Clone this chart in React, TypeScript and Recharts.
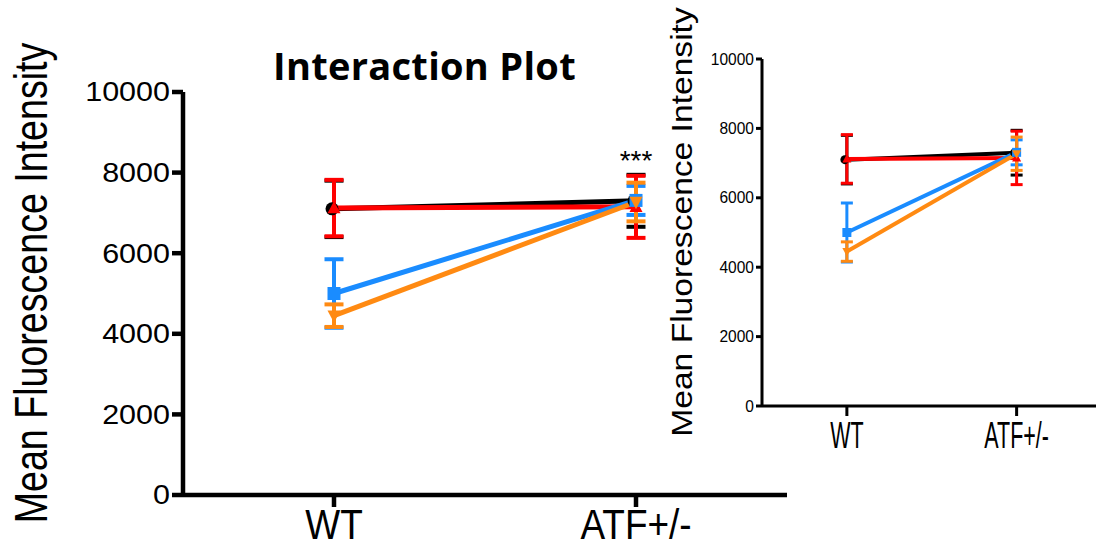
import React from "react";
import {
  ComposedChart, Line, XAxis, YAxis, ErrorBar, ReferenceDot, Label,
} from "recharts";

const groups = ["WT", "ATF+/-"];
const yTicks = [0, 2000, 4000, 6000, 8000, 10000];

const blackMean = [7100, 7300];
const blackErr = [700, 645];
const redMean = [7120, 7150];
const redErr = [700, 770];
const blueMean = [5000, 7310];
const blueErr = [850, 360];
const orangeMean = [4450, 7270];
const orangeErr = [280, 480];

const yTitle = "Mean Fluorescence Intensity";
const sigMark = "***";

const rows = groups.map((g, i) => ({
  x: i,
  g,
  bm: blackMean[i], be: blackErr[i],
  rm: redMean[i], re: redErr[i],
  um: blueMean[i], ue: blueErr[i],
  om: orangeMean[i], oe: orangeErr[i],
}));

const series = [
  { mean: "bm", err: "be", color: "#000000", shape: "circle" },
  { mean: "rm", err: "re", color: "#ff0000", shape: "up" },
  { mean: "um", err: "ue", color: "#1a8cff", shape: "square" },
  { mean: "om", err: "oe", color: "#ff8a12", shape: "down" },
];

const FONT = "'Liberation Sans', Arial, sans-serif";

function makeDot(shape: string, color: string, size: number) {
  return (p: any) => {
    const { cx, cy, index } = p;
    const h = size / 2;
    if (cx == null || cy == null) return <g key={index} />;
    if (shape === "circle") return <circle key={index} cx={cx - 2} cy={cy} r={h} fill={color} />;
    if (shape === "square") return <rect key={index} x={cx - h} y={cy - h} width={size} height={size} fill={color} />;
    const d = shape === "up" ? 1 : -1;
    const pts = `${cx},${cy - d * h * 1.1} ${cx + h},${cy + d * h * 0.8} ${cx - h},${cy + d * h * 0.8}`;
    return <polygon key={index} points={pts} fill={color} />;
  };
}

interface PanelCfg {
  width: number; height: number;
  margin: { top: number; right: number; bottom: number; left: number };
  yW: number; xH: number; axisW: number;
  yTickSize: number; xTickSize: number;
  yFs: number; ySx: number; xFs: number; xSx: number; xDy: number;
  lineW: number; errW: number; cap: number; mark: number;
  lab: { x: number; y: number; fs: number; sx: number };
  stars?: boolean;
}

function Panel({ c }: { c: PanelCfg }) {
  const yTick = (p: any) => (
    <text transform={`translate(${p.x},${p.y}) scale(${c.ySx},1)`} textAnchor="end"
      dominantBaseline="central" fontSize={c.yFs} fontFamily={FONT} fill="#000">
      {p.payload.value}
    </text>
  );
  const xTick = (p: any) => (
    <text transform={`translate(${p.x},${p.y + c.xDy}) scale(${c.xSx},1)`} textAnchor="middle"
      fontSize={c.xFs} fontFamily={FONT} fill="#000">
      {groups[p.payload.value]}
    </text>
  );
  const yLab = () => (
    <text transform={`translate(${c.lab.x},${c.lab.y}) rotate(-90) scale(${c.lab.sx},1)`}
      textAnchor="middle" dominantBaseline="central" fontSize={c.lab.fs} fontFamily={FONT} fill="#000">
      {yTitle}
    </text>
  );
  const topAtf = Math.max(
    blackMean[1] + blackErr[1], redMean[1] + redErr[1],
    blueMean[1] + blueErr[1], orangeMean[1] + orangeErr[1],
  );
  return (
    <ComposedChart width={c.width} height={c.height} data={rows} margin={c.margin}>
      <XAxis dataKey="x" type="number" domain={[-0.5, 1.5]} ticks={[0, 1]} allowDataOverflow
        height={c.xH} tickSize={c.xTickSize} tick={xTick}
        axisLine={{ stroke: "#000", strokeWidth: c.axisW }}
        tickLine={{ stroke: "#000", strokeWidth: c.axisW }} />
      <YAxis type="number" domain={[0, 10000]} ticks={yTicks} allowDataOverflow
        width={c.yW} tickSize={c.yTickSize} tick={yTick}
        axisLine={{ stroke: "#000", strokeWidth: c.axisW }}
        tickLine={{ stroke: "#000", strokeWidth: c.axisW }}>
        <Label content={yLab} />
      </YAxis>
      {series.map((s) => (
        <Line key={s.mean} dataKey={s.mean} type="linear" stroke={s.color} strokeWidth={c.lineW}
          dot={makeDot(s.shape, s.color, c.mark)} activeDot={false} isAnimationActive={false}>
          <ErrorBar dataKey={s.err} direction="y" width={c.cap} stroke={s.color} strokeWidth={c.errW} />
        </Line>
      ))}
      {c.stars && (
        <ReferenceDot x={1} y={topAtf} r={0} fill="none" stroke="none"
          label={{ value: sigMark, position: "top", offset: 5, fontSize: 28, fill: "#000", fontFamily: FONT }} />
      )}
    </ComposedChart>
  );
}

const leftCfg: PanelCfg = {
  width: 790, height: 548,
  margin: { top: 92, right: 3, bottom: 3, left: 83 },
  yW: 100, xH: 50, axisW: 4.5,
  yTickSize: 11, xTickSize: 12,
  yFs: 27, ySx: 1.13, xFs: 42, xSx: 0.88, xDy: 30,
  lineW: 5, errW: 4, cap: 9.5, mark: 13,
  lab: { x: 30, y: 283, fs: 47, sx: 0.8 },
  stars: true,
};

const rightCfg: PanelCfg = {
  width: 470, height: 548,
  margin: { top: 59, right: 8.5, bottom: 102, left: 52 },
  yW: 70, xH: 40, axisW: 3,
  yTickSize: 6, xTickSize: 10,
  yFs: 16, ySx: 0.97, xFs: 37, xSx: 0.58, xDy: 30,
  lineW: 4, errW: 3, cap: 6, mark: 9,
  lab: { x: 42, y: 222, fs: 30, sx: 1.12 },
};

export default function App() {
  return (
    <div style={{ position: "absolute", left: 0, top: 0, width: 1096, height: 548, overflow: "hidden", background: "#fff" }}>
      <div style={{ position: "absolute", left: 0, top: 0 }}>
        <Panel c={leftCfg} />
      </div>
      <div style={{ position: "absolute", left: 640, top: 0 }}>
        <Panel c={rightCfg} />
      </div>
      <div style={{
        position: "absolute", left: 0, top: 46, width: 849, textAlign: "center",
        fontFamily: "'Open Sans', Lato, sans-serif", fontWeight: 700, fontSize: 38, lineHeight: "38px", color: "#000",
        letterSpacing: 0.3,
      }}>
        Interaction Plot
      </div>
    </div>
  );
}
